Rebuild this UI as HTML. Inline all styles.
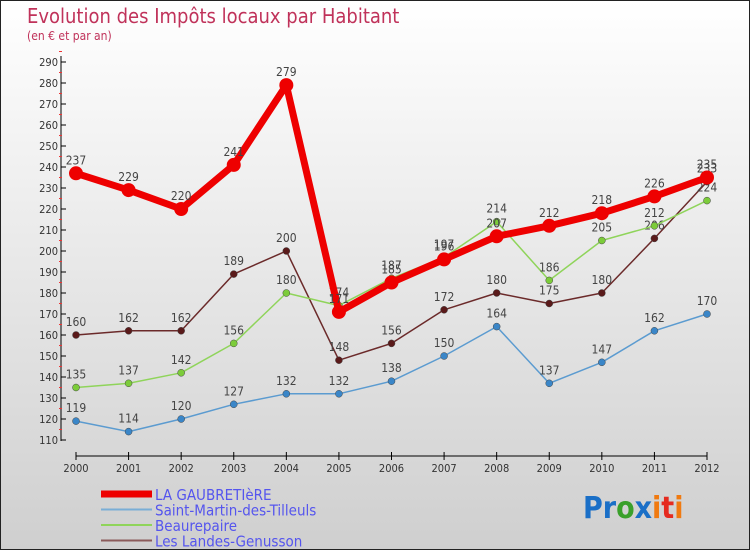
<!DOCTYPE html>
<html><head><meta charset="utf-8"><style>
html,body{margin:0;padding:0}
body{width:750px;height:550px;overflow:hidden;font-family:"DejaVu Sans Condensed","Liberation Sans",sans-serif}
#wrap{position:absolute;left:0;top:0;width:748px;height:548px;border:1px solid #222;background:linear-gradient(#ffffff,#cfcfcf)}
</style></head><body>
<div id="wrap">
<svg id="chart" width="748" height="548" style="position:absolute;left:0;top:0">
<text x="26" y="22" font-size="20" fill="#c0325a" font-family="DejaVu Sans Condensed, Liberation Sans, sans-serif" font-weight="300">Evolution des Impôts locaux par Habitant</text>
<text x="26" y="39" font-size="12" fill="#c0325a">(en € et par an)</text>
<g id="axes"></g>
<g id="series"></g>
<g id="legend"></g>
<text x="582" y="517" font-size="30" font-weight="bold"><tspan fill="#1a6fc7">Pr</tspan><tspan fill="#3aa02b">o</tspan><tspan fill="#1a6fc7">x</tspan><tspan fill="#f07a10">i</tspan><tspan fill="#e52b20">t</tspan><tspan fill="#f07a10">i</tspan></text>
</svg>
</div>
<script>
const years=[2000,2001,2002,2003,2004,2005,2006,2007,2008,2009,2010,2011,2012];
const yTicks=[110,120,130,140,150,160,170,180,190,200,210,220,230,240,250,260,270,280,290];
const seriesNames=["LA GAUBRETIèRE","Saint-Martin-des-Tilleuls","Beaurepaire","Les Landes-Genusson"];
const gaubretiere=[237,229,220,241,279,171,185,196,207,212,218,226,235];
const saintMartin=[119,114,120,127,132,132,138,150,164,137,147,162,170];
const beaurepaire=[135,137,142,156,180,174,187,197,214,186,205,212,224];
const landes=[160,162,162,189,200,148,156,172,180,175,180,206,233];
const NS="http://www.w3.org/2000/svg";
const X=i=>75+i*(706-75)/12;
const Y=v=>439-(v-110)*(439-61)/180;
function mk(tag,attrs,parent){const e=document.createElementNS(NS,tag);for(const k in attrs)e.setAttribute(k,attrs[k]);parent.appendChild(e);return e;}
const ax=document.getElementById('axes');
const yl=mk('line',{x1:60,y1:55,x2:60,y2:440,stroke:'#000'},ax);


yTicks.forEach(v=>{
 mk('line',{x1:60,x2:65,y1:Y(v),y2:Y(v),stroke:'#000'},ax);
 mk('line',{x1:58,x2:61,y1:Y(v+5),y2:Y(v+5),stroke:'#e33'},ax);
 const t=mk('text',{x:57,y:Y(v)+4,'text-anchor':'end','font-size':11,fill:'#333'},ax);t.textContent=v;
 
 
});
const xl=mk('line',{x1:75,y1:455,x2:706,y2:455,stroke:'#000'},ax);


years.forEach((y,i)=>{
 mk('line',{x1:X(i),x2:X(i),y1:451,y2:459,stroke:'#000'},ax);
 const t=mk('text',{x:X(i),y:465+6,'text-anchor':'middle','font-size':11,fill:'#333'},ax);t.textContent=y;
 
 
});
const sg=document.getElementById('series');
const defs=[[landes,'#6b2a2a','#5a1a1a',1.5,3.5,'series-les-landes-genusson'],[beaurepaire,'#8fd45a','#7ccc3a',1.5,3.5,'series-beaurepaire'],[saintMartin,'#5b9bd0','#3a86c8',1.5,3.5,'series-saint-martin'],[gaubretiere,'#ee0000','#ee0000',7,7,'series-la-gaubretiere']];
defs.forEach(([d,lc,pc,w,r,name])=>{
 const g=mk('g',{},sg);
 
 
 mk('polyline',{points:d.map((v,i)=>X(i)+','+Y(v)).join(' '),fill:'none',stroke:lc,'stroke-width':w,'stroke-linejoin':'round'},g);
 d.forEach((v,i)=>{
  const c=mk('circle',{cx:X(i),cy:Y(v),r:r,fill:pc,stroke:w>2?'none':'#444','stroke-width':0.5},g);
  
  
  const t=mk('text',{x:X(i),y:Y(v)-9,'text-anchor':'middle','font-size':12,fill:'#444'},g);t.textContent=v;
  
  
 });
});
const lg=document.getElementById('legend');
const lc=[['#ee0000',7],['#7aaed6',2],['#8fd45a',2],['#8a5a5a',2]];
seriesNames.forEach((n,i)=>{
 const yy=493+i*15.5;
 const g=mk('g',{},lg);
 
 
 mk('line',{x1:100,x2:151,y1:yy,y2:yy,stroke:lc[i][0],'stroke-width':lc[i][1]},g);
 const t=mk('text',{x:154,y:yy+6,'font-size':15,fill:'#5555ee'},g);t.textContent=n;
});
</script>
</body></html>
